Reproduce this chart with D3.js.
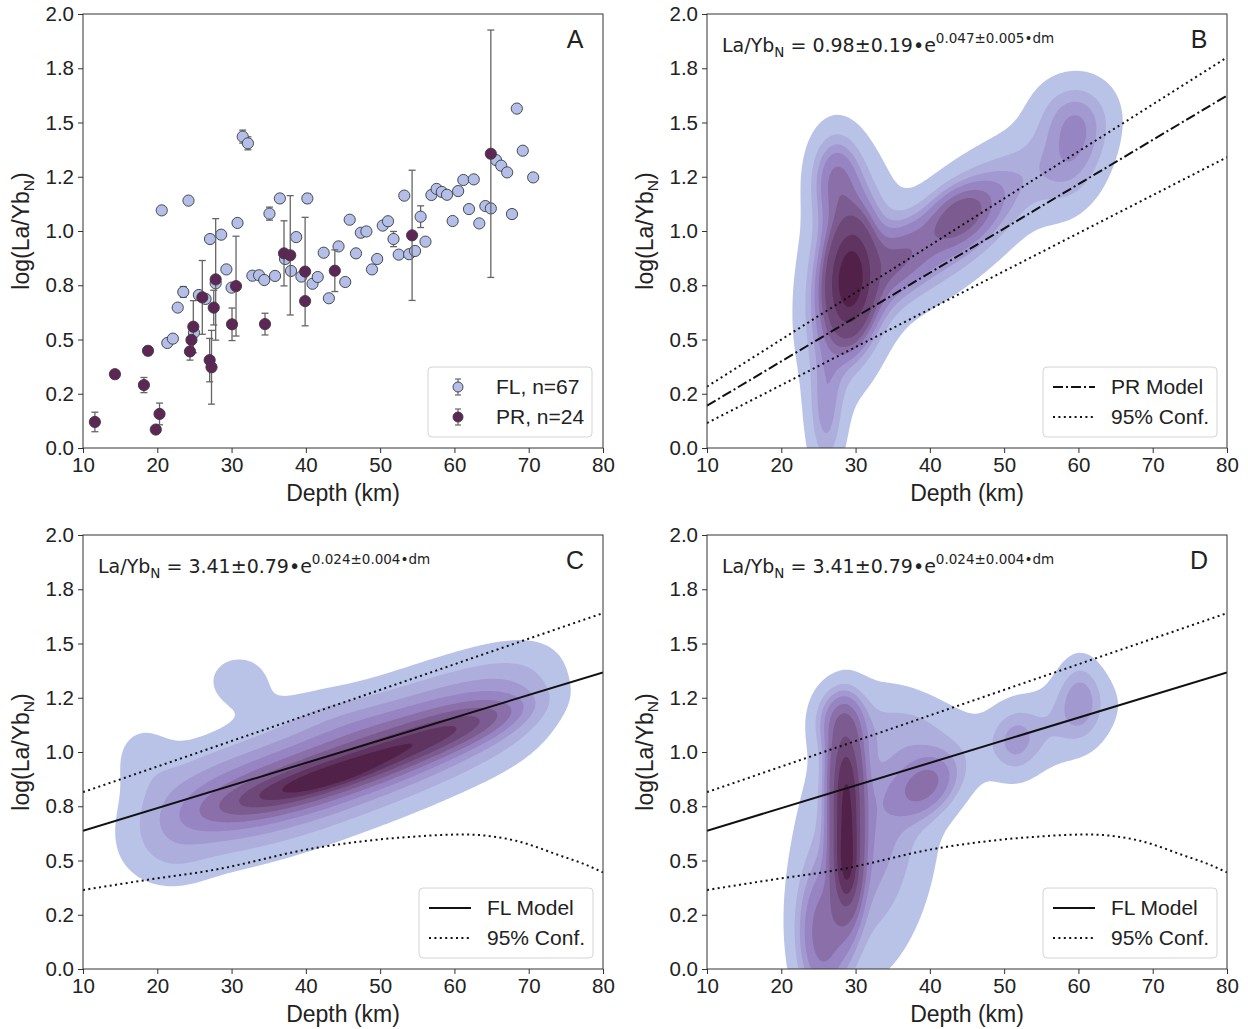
<!DOCTYPE html>
<html>
<head>
<meta charset="utf-8">
<script src="https://cdn.jsdelivr.net/npm/d3@7"></script>
<style>
  body { margin: 0; background: #fff; }
  text { fill: #222; }
</style>
</head>
<body>
<svg id="fig" width="1248" height="1029" font-family="'Liberation Sans', Arial, sans-serif"></svg>
<script>
// ---- panel A data: FL samples (depth km, log La/Yb_N, 1-sigma error)
const flDepth = [20.6, 24.2, 27.1, 28.6, 30.8, 35.1, 36.5, 40.2, 38.7, 42.4, 44.4, 29.3, 32.8, 33.7, 34.4, 35.85,
  37.2, 38.0, 39.4, 40.9, 41.6, 43.1, 23.5, 22.75, 21.35, 22.1, 24.94, 25.6, 26.5, 27.86, 30.0, 45.3,
  45.9, 46.75, 47.4, 48.15, 48.9, 49.6, 50.35, 51.06, 51.8, 52.5, 53.25, 53.9, 54.7, 55.45, 56.1, 56.9,
  57.6, 58.3, 59.0, 59.76, 60.5, 61.2, 61.96, 62.6, 63.35, 64.16, 64.9, 65.6, 66.3, 67.1, 67.75, 68.4,
  69.2, 70.6, 31.5, 32.2];
const flLog = [1.095, 1.14, 0.963, 0.983, 1.037, 1.08, 1.15, 1.15, 0.972, 0.90, 0.929, 0.823, 0.794, 0.796, 0.774, 0.793,
  0.871, 0.816, 0.79, 0.757, 0.788, 0.69, 0.719, 0.647, 0.484, 0.504, 0.531, 0.705, 0.687, 0.759, 0.739, 0.765,
  1.052, 0.897, 0.992, 0.998, 0.823, 0.871, 1.025, 1.045, 0.963, 0.891, 1.163, 0.893, 0.908, 1.066, 0.951, 1.166,
  1.194, 1.18, 1.167, 1.046, 1.184, 1.235, 1.101, 1.238, 1.035, 1.115, 1.104, 1.327, 1.301, 1.27, 1.078, 1.564,
  1.37, 1.247, 1.435, 1.404];
const flErr = [0, 0, 0, 0, 0, 0.03, 0, 0.02, 0, 0, 0, 0, 0, 0, 0, 0,
  0, 0, 0, 0, 0, 0, 0.025, 0, 0, 0, 0, 0, 0, 0, 0, 0,
  0, 0, 0, 0, 0, 0, 0, 0, 0.035, 0, 0, 0, 0, 0.05, 0, 0.02,
  0, 0, 0, 0, 0, 0, 0, 0, 0, 0, 0, 0, 0, 0, 0.02, 0,
  0, 0, 0.03, 0.03];

// ---- panel A data: PR samples
const prDepth = [11.6, 14.3, 18.2, 18.75, 20.3, 19.8, 24.4, 24.6, 24.85, 26.06, 27.05, 27.3,
  27.6, 27.86, 30.06, 30.6, 34.5, 37.06, 37.9, 39.9, 39.9, 43.9, 54.3, 64.9];
const prLog = [0.12, 0.34, 0.29, 0.448, 0.157, 0.085, 0.445, 0.498, 0.559, 0.694, 0.405, 0.372,
  0.647, 0.777, 0.57, 0.746, 0.571, 0.897, 0.888, 0.813, 0.677, 0.817, 0.98, 1.356];
const prErr = [0.045, 0, 0.035, 0.02, 0.05, 0, 0.04, 0, 0.12, 0.17, 0.1, 0.17,
  0.08, 0.28, 0.075, 0.23, 0.05, 0.15, 0.275, 0.25, 0, 0.096, 0.30, 0.57];

// ---- model lines (depth, log La/Yb_N)
const lineDepth = [10, 80];
const prModel = [0.195, 1.624];
const prConfHi = [0.283, 1.80];
const prConfLo = [0.115, 1.34];
const flModel = [0.637, 1.367];
const flConfHi = [0.815, 1.64];
const flConfLoDepth = [10, 18.5, 27.5, 41, 48, 54.5, 61.2, 67.9, 74.7, 77, 80];
const flConfLo = [0.364, 0.41, 0.456, 0.556, 0.59, 0.61, 0.62, 0.594, 0.517, 0.49, 0.445];

// ---- density components for panel B
const bDepth = [29.3, 29.0, 27.3, 26.0, 44.0, 44.0, 59.5, 59.0, 36.0];
const bLog   = [0.78, 0.78, 1.25, 0.15, 1.03, 1.08, 1.33, 1.55, 0.88];
const bSdD   = [1.7, 3.5, 2.4, 1.7, 8.0, 2.8, 3.4, 3.6, 3.0];
const bSdL   = [0.14, 0.28, 0.15, 0.2, 0.25, 0.09, 0.17, 0.12, 0.12];
const bRho   = [0.1, 0.2, 0, 0, 0.75, 0.3, 0.3, 0, 0.4];
const bAmp   = [1.0, 0.35, 0.2, 0.14, 0.22, 0.15, 0.13, 0.1, 0.13];

// ---- density components for panel C
const cDepth = [20, 25.5, 31, 36.5, 42, 47.5, 53, 58.5, 64, 69.5,
  34, 40, 46, 52, 58, 63, 44.0, 31.0, 18.0, 22.0, 42.0];
const cLog   = [0.71, 0.75, 0.79, 0.845, 0.905, 0.975, 1.04, 1.11, 1.18, 1.24,
  0.79, 0.855, 0.925, 1.00, 1.08, 1.15, 0.885, 1.33, 0.98, 0.50, 1.20];
const cSdD   = [4.2, 4.2, 4.2, 4.2, 4.2, 4.2, 4.2, 4.2, 4.2, 4.2,
  5, 5, 5, 5, 5, 5, 3.5, 3.5, 3.0, 3.5, 5.0];
const cSdL   = [0.17, 0.17, 0.17, 0.17, 0.17, 0.17, 0.17, 0.17, 0.17, 0.17,
  0.07, 0.07, 0.07, 0.07, 0.07, 0.07, 0.044, 0.10, 0.12, 0.10, 0.08];
const cRho   = [0.3, 0.3, 0.3, 0.3, 0.3, 0.3, 0.3, 0.3, 0.3, 0.3,
  0.6, 0.6, 0.6, 0.6, 0.6, 0.6, 0.824, 0, 0, 0, 0];
const cAmp   = [0.16, 0.28, 0.34, 0.38, 0.4, 0.4, 0.38, 0.34, 0.28, 0.18,
  0.3, 0.45, 0.45, 0.4, 0.35, 0.25, 0.25, 0.12, 0.1, 0.06, 0.05];

// ---- density components for panel D
const dDepth = [28.8, 28.6, 28.9, 28.0, 25.5, 31.5, 39.5, 38.0, 51.5, 60.2, 55.0];
const dLog   = [0.62, 0.92, 0.45, 1.15, 0.15, 0.60, 0.85, 1.10, 1.05, 1.25, 1.10];
const dSdD   = [1.3, 1.5, 1.0, 2.2, 2.2, 5.5, 3.0, 5.0, 2.0, 2.0, 7.0];
const dSdL   = [0.22, 0.14, 0.10, 0.10, 0.20, 0.38, 0.10, 0.10, 0.10, 0.12, 0.15];
const dRho   = [0, 0, 0, 0, 0, 0.2, 0.3, 0, 0, 0, 0.5];
const dAmp   = [1.0, 0.45, 0.3, 0.2, 0.25, 0.16, 0.24, 0.06, 0.08, 0.12, 0.08];

const xTicks = [10, 20, 30, 40, 50, 60, 70, 80];
const yTicks = [0, 0.25, 0.5, 0.75, 1.0, 1.25, 1.5, 1.75, 2.0];
const yTickLabels = ["0.0", "0.2", "0.5", "0.8", "1.0", "1.2", "1.5", "1.8", "2.0"];

const flColor = "#b3bfe9";
const prColor = "#5e2656";
const bandColor = d3.scaleLinear().domain([0, 0.35, 1])
  .range(["#b8c3e7", "#9a88c8", "#52214a"]).interpolate(d3.interpolateLab);

const pw = 520, ph = 434;
const svg = d3.select("#fig");
const nx = 210, ny = 180;

function gridValues(fn) {
  const vals = new Float64Array(nx * ny);
  for (let j = 0; j < ny; j++) {
    const v = 2 - (j + 0.5) * 2 / ny;
    for (let i = 0; i < nx; i++) {
      const d = 10 + (i + 0.5) * 70 / nx;
      vals[j * nx + i] = fn(d, v);
    }
  }
  return vals;
}

function mixture(dep, lg, sdD, sdL, rho, amp) {
  return (d, v) => {
    let s = 0;
    for (let k = 0; k < dep.length; k++) {
      const a = (d - dep[k]) / sdD[k], b = (v - lg[k]) / sdL[k], r = rho[k];
      s += amp[k] * Math.exp(-0.5 * (a * a - 2 * r * a * b + b * b) / (1 - r * r));
    }
    return s;
  };
}

// iso-proportion levels (seaborn style, thresh 0.05, 10 levels -> 9 bands)
function isoLevels(vals) {
  const s = Array.from(vals).sort((a, b) => a - b);
  const tot = d3.sum(s);
  let c = 0;
  const cum = s.map(v => (c += v) / tot);
  return d3.range(9).map(k => s[d3.bisectLeft(cum, 0.05 + k * 0.95 / 9)]);
}

function makePanel(left, top) {
  const g = svg.append("g").attr("transform", `translate(${left},${top})`);
  const x = d3.scaleLinear().domain([10, 80]).range([0, pw]);
  const y = d3.scaleLinear().domain([0, 2]).range([ph, 0]);
  const id = "clip" + left + "_" + top;
  g.append("clipPath").attr("id", id).append("rect").attr("width", pw).attr("height", ph);
  const plot = g.append("g").attr("clip-path", `url(#${id})`);
  return { g, plot, x, y };
}

function drawAxes(p) {
  const { g, x, y } = p;
  const ax = g.append("g").attr("transform", `translate(0,${ph})`)
    .call(d3.axisBottom(x).tickValues(xTicks).tickSize(5).tickPadding(4).tickFormat(d3.format("d")));
  const ay = g.append("g")
    .call(d3.axisLeft(y).tickValues(yTicks).tickSize(5).tickPadding(4).tickFormat((d, i) => yTickLabels[i]));
  [ax, ay].forEach(a => {
    a.select(".domain").remove();
    a.attr("font-family", null).attr("font-size", null);
    a.selectAll("line").attr("stroke", "#333").attr("stroke-width", 1);
    a.selectAll("text").attr("font-size", 20.5).attr("fill", "#222");
  });
  g.append("rect").attr("width", pw).attr("height", ph)
    .attr("fill", "none").attr("stroke", "#333").attr("stroke-width", 1);
  g.append("text").attr("x", pw / 2).attr("y", ph + 53).attr("text-anchor", "middle")
    .attr("font-size", 23).text("Depth (km)");
  const yl = g.append("text").attr("transform", `translate(-54,${ph / 2}) rotate(-90)`)
    .attr("text-anchor", "middle").attr("font-size", 23);
  yl.append("tspan").text("log(La/Yb");
  yl.append("tspan").attr("font-size", 15.5).attr("dy", 5).text("N");
  yl.append("tspan").attr("dy", -5).text(")");
}

function panelLetter(p, letter) {
  p.g.append("text").attr("x", pw - 28).attr("y", 34).attr("text-anchor", "middle")
    .attr("font-size", 25).text(letter);
}

function equation(p, a, b) {
  const t = p.g.append("text").attr("x", 15).attr("y", 38)
    .attr("font-size", 19).style("font-family", "'DejaVu Sans', sans-serif");
  t.append("tspan").text("La/Yb");
  t.append("tspan").attr("font-size", 13.5).attr("dy", 5).text("N");
  t.append("tspan").attr("dy", -5).text(` = ${a}\u2022e`);
  t.append("tspan").attr("font-size", 13.5).attr("dy", -9).text(`${b}\u2022dm`);
}

function drawDensity(p, fn) {
  const vals = gridValues(fn);
  const levels = isoLevels(vals);
  const contours = d3.contours().size([nx, ny]).thresholds(levels)(vals);
  const proj = d3.geoTransform({
    point(gx, gy) { this.stream.point(p.x(10 + gx * 70 / nx), p.y(2 - gy * 2 / ny)); }
  });
  const path = d3.geoPath(proj);
  p.plot.selectAll("path.band").data(contours).join("path").attr("class", "band")
    .attr("d", path).attr("fill", (d, i) => bandColor(i / 8)).attr("stroke", "none");
}

function drawLine(p, depths, vals, dash) {
  const line = d3.line().x(d => p.x(d[0])).y(d => p.y(d[1])).curve(d3.curveMonotoneX);
  p.plot.append("path").datum(depths.map((d, i) => [d, vals[i]]))
    .attr("d", line).attr("fill", "none").attr("stroke", "#111")
    .attr("stroke-width", 2).attr("stroke-dasharray", dash);
}

function legendBox(p, lx, ly, w) {
  p.g.append("rect").attr("x", lx).attr("y", ly).attr("width", w).attr("height", 70)
    .attr("rx", 4).attr("fill", "#fff").attr("fill-opacity", 0.85)
    .attr("stroke", "#d4d4d4").attr("stroke-width", 1);
}

function lineLegend(p, label, dash) {
  const lx = pw - 184, ly = ph - 81;
  legendBox(p, lx, ly, 174);
  const rows = [[label, dash], ["95% Conf.", "2,3.4"]];
  rows.forEach((r, i) => {
    const yy = ly + 20 + i * 30;
    p.g.append("line").attr("x1", lx + 10).attr("x2", lx + 52).attr("y1", yy).attr("y2", yy)
      .attr("stroke", "#111").attr("stroke-width", 2).attr("stroke-dasharray", r[1]);
    p.g.append("text").attr("x", lx + 68).attr("y", yy + 7).attr("font-size", 21).text(r[0]);
  });
}

// ---------------- Panel A
const pA = makePanel(83, 14);
function drawErrPoints(p, dep, lg, err, color) {
  const pts = dep.map((d, i) => ({ d, v: lg[i], e: err[i] }));
  const eg = p.plot.append("g");
  pts.filter(q => q.e > 0).forEach(q => {
    const x0 = p.x(q.d), y1 = p.y(q.v + q.e), y2 = p.y(q.v - q.e);
    eg.append("line").attr("x1", x0).attr("x2", x0).attr("y1", y1).attr("y2", y2);
    eg.append("line").attr("x1", x0 - 3.5).attr("x2", x0 + 3.5).attr("y1", y1).attr("y2", y1);
    eg.append("line").attr("x1", x0 - 3.5).attr("x2", x0 + 3.5).attr("y1", y2).attr("y2", y2);
  });
  eg.attr("stroke", "#666").attr("stroke-width", 1.3);
  p.plot.append("g").selectAll("circle").data(pts).join("circle")
    .attr("cx", q => p.x(q.d)).attr("cy", q => p.y(q.v)).attr("r", 5.6)
    .attr("fill", color).attr("stroke", "#3a3a3a").attr("stroke-width", 0.9);
}
drawErrPoints(pA, flDepth, flLog, flErr, flColor);
drawErrPoints(pA, prDepth, prLog, prErr, prColor);
drawAxes(pA);
panelLetter(pA, "A");
{
  const lx = pw - 175, ly = ph - 81;
  legendBox(pA, lx, ly, 164);
  [["FL, n=67", flColor], ["PR, n=24", prColor]].forEach((r, i) => {
    const yy = ly + 20 + i * 30, xx = lx + 30;
    pA.g.append("line").attr("x1", xx).attr("x2", xx).attr("y1", yy - 8).attr("y2", yy + 8)
      .attr("stroke", "#666").attr("stroke-width", 1.2);
    [yy - 8, yy + 8].forEach(c => pA.g.append("line").attr("x1", xx - 3).attr("x2", xx + 3)
      .attr("y1", c).attr("y2", c).attr("stroke", "#666").attr("stroke-width", 1.2));
    pA.g.append("circle").attr("cx", xx).attr("cy", yy).attr("r", 5)
      .attr("fill", r[1]).attr("stroke", "#3a3a3a").attr("stroke-width", 0.9);
    pA.g.append("text").attr("x", lx + 68).attr("y", yy + 7).attr("font-size", 21).text(r[0]);
  });
}

// ---------------- Panel B
const pB = makePanel(707, 14);
drawDensity(pB, mixture(bDepth, bLog, bSdD, bSdL, bRho, bAmp));
drawLine(pB, lineDepth, prConfHi, "2,3.4");
drawLine(pB, lineDepth, prConfLo, "2,3.4");
drawLine(pB, lineDepth, prModel, "10,3,2,3");
drawAxes(pB);
panelLetter(pB, "B");
equation(pB, "0.98\u00b10.19", "0.047\u00b10.005");
lineLegend(pB, "PR Model", "10,3,2,3");

// ---------------- Panel C
const pC = makePanel(83, 535);
drawDensity(pC, mixture(cDepth, cLog, cSdD, cSdL, cRho, cAmp));
drawLine(pC, lineDepth, flConfHi, "2,3.4");
drawLine(pC, flConfLoDepth, flConfLo, "2,3.4");
drawLine(pC, lineDepth, flModel, null);
drawAxes(pC);
panelLetter(pC, "C");
equation(pC, "3.41\u00b10.79", "0.024\u00b10.004");
lineLegend(pC, "FL Model", null);

// ---------------- Panel D
const pD = makePanel(707, 535);
drawDensity(pD, mixture(dDepth, dLog, dSdD, dSdL, dRho, dAmp));
drawLine(pD, lineDepth, flConfHi, "2,3.4");
drawLine(pD, flConfLoDepth, flConfLo, "2,3.4");
drawLine(pD, lineDepth, flModel, null);
drawAxes(pD);
panelLetter(pD, "D");
equation(pD, "3.41\u00b10.79", "0.024\u00b10.004");
lineLegend(pD, "FL Model", null);
</script>
</body>
</html>
